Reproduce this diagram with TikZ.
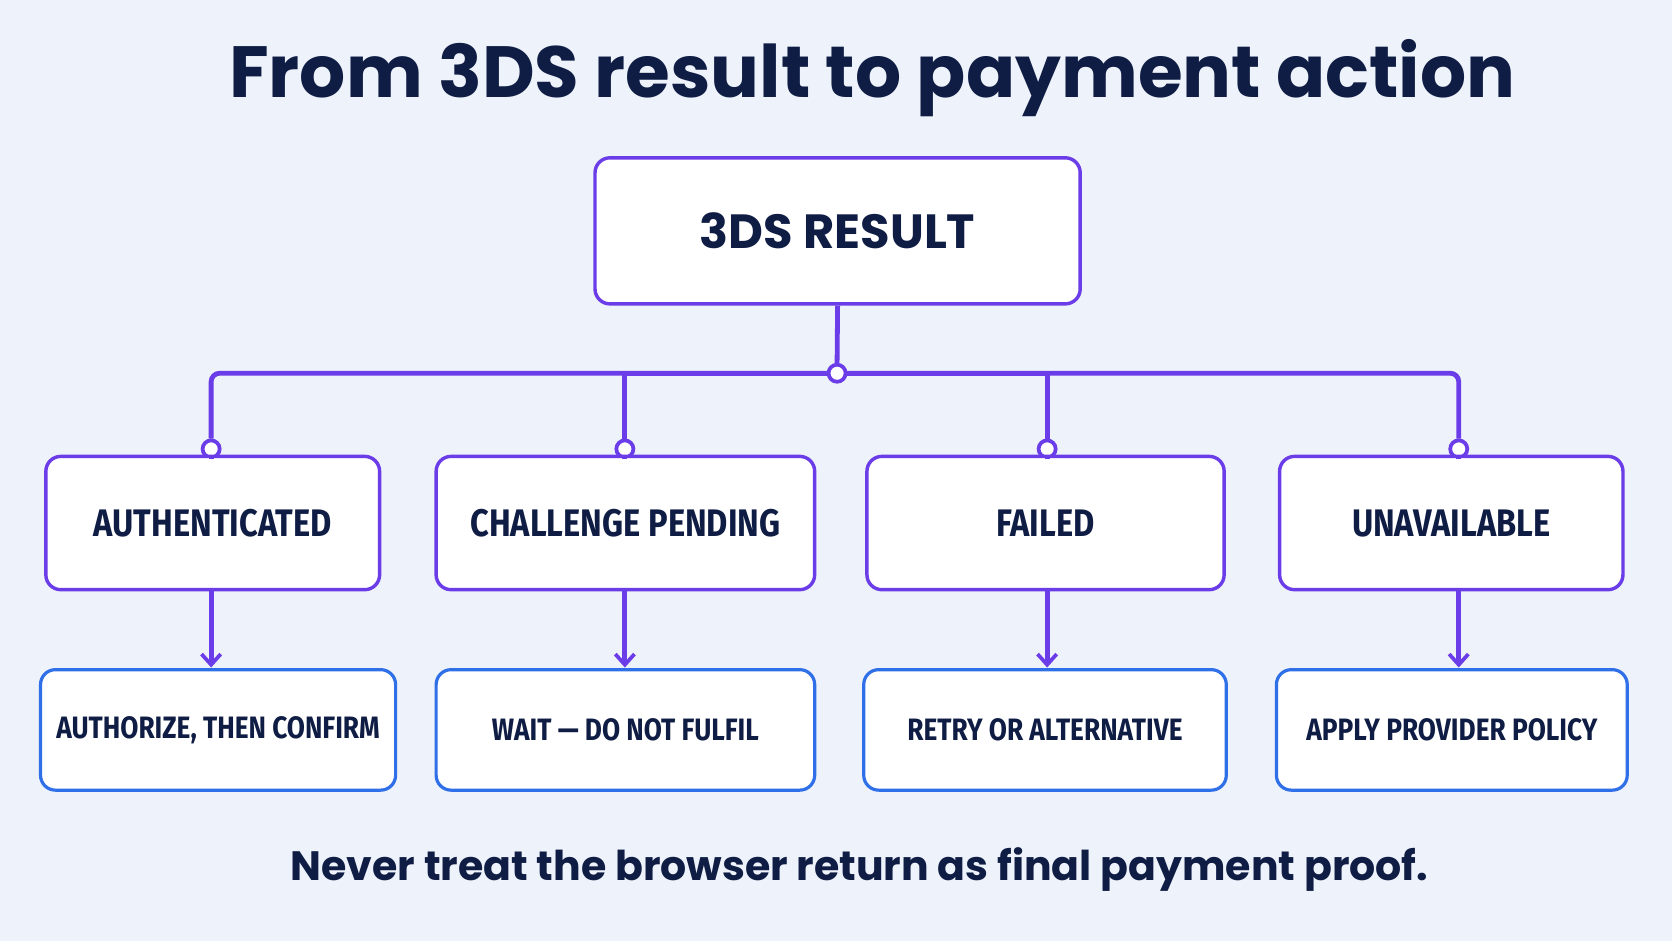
\documentclass[tikz,border=0pt]{standalone}
\usepackage{fontspec}
\setmainfont{Poppins}[BoldFont={* Bold}]
\newfontfamily\cond{Fira Sans}[FakeStretch=0.85]
\usetikzlibrary{arrows.meta}
\definecolor{bg}{HTML}{EEF2FA}
\definecolor{navy}{HTML}{0F1D45}
\definecolor{purp}{HTML}{6A3DE8}
\definecolor{blu}{HTML}{2F6FE8}
\begin{document}
\begin{tikzpicture}[x=1pt,y=-1pt,
  st/.style={draw=purp,line width=3.2pt,fill=white,rounded corners=14pt,text=navy},
  ac/.style={draw=blu,line width=3pt,fill=white,rounded corners=14pt,text=navy},
  ln/.style={draw=purp,line width=4.5pt},
  dot/.style={circle,draw=purp,line width=3.5pt,fill=white,inner sep=0pt,minimum size=16pt},
  arr/.style={ln,-{Straight Barb[length=10pt,width=18pt,line width=3.5pt]}}]
\fill[bg] (0,0) rectangle (1568,882);
\node[text=navy,font=\fontsize{68}{74}\selectfont\bfseries] (title) at (818,73) {From 3DS result to payment action};
\node[st,minimum width=455pt,minimum height=137pt,font=\fontsize{45}{50}\selectfont\bfseries] (top) at (785.5,216.5) {3DS RESULT};
\node[dot] (hub) at (785,350) {};
\foreach \n/\x in {a/198,b/586,c/982,d/1368} \node[dot] (d\n) at (\x,421) {};
\draw[ln] (top.south) -- (hub.north);
\draw[ln,rounded corners=8pt] (hub.west) -| (da.north);
\draw[ln] (hub.west) -| (db.north);
\draw[ln] (hub.east) -| (dc.north);
\draw[ln,rounded corners=8pt] (hub.east) -| (dd.north);
\tikzset{r1/.style={st,minimum height=125pt,font=\cond\fontsize{36}{40}\selectfont\bfseries},
         r2/.style={ac,minimum height=113pt,font=\cond\fontsize{29}{32}\selectfont\bfseries}}
\node[r1,minimum width=313pt] (sa) at (199.5,490.5) {AUTHENTICATED};
\node[r1,minimum width=355pt] (sb) at (586.5,490.5) {CHALLENGE PENDING};
\node[r1,minimum width=335pt] (sc) at (980.5,490.5) {FAILED};
\node[r1,minimum width=322pt] (sd) at (1361,490.5) {UNAVAILABLE};
\node[r2,minimum width=333pt] (aa) at (204.5,684.5) {AUTHORIZE, THEN CONFIRM};
\node[r2,minimum width=355pt] (ab) at (586.5,684.5) {WAIT — DO NOT FULFIL};
\node[r2,minimum width=340pt] (ac) at (980,684.5) {RETRY OR ALTERNATIVE};
\node[r2,minimum width=329pt] (ad) at (1361.5,684.5) {APPLY PROVIDER POLICY};
\draw[ln] (da.south) -- (198,428);
\draw[ln] (db.south) -- (586,428);
\draw[ln] (dc.south) -- (982,428);
\draw[ln] (dd.south) -- (1368,428);
\foreach \n/\x in {a/198,b/586,c/982,d/1368}
  \draw[arr] (\x,553) -- (\x,626);
\node[text=navy,font=\fontsize{38.5}{42}\selectfont\bfseries] (foot) at (806,815) {Never treat the browser return as final payment proof.};
\end{tikzpicture}
\end{document}
